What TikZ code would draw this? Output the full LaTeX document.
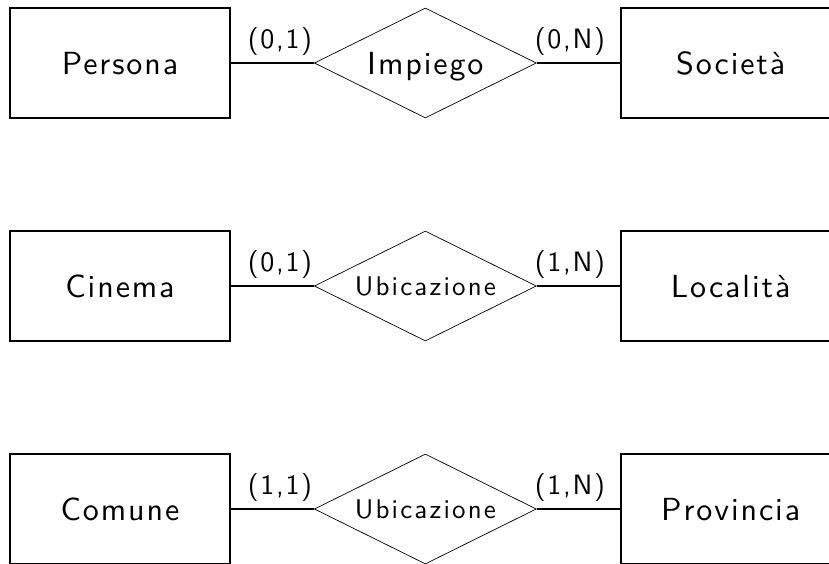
\documentclass[tikz,border=0pt]{standalone}
\usepackage{fontspec}
\usepackage{tikz}
\usetikzlibrary{positioning,shapes.geometric}

\newfontfamily\erfont{lmsans10-regular.otf}[LetterSpace=6]
\newfontfamily\relfont{lmsans10-regular.otf}[LetterSpace=8]

\begin{document}
\begin{tikzpicture}[x=1pt,y=1pt,
    entity/.style={draw, line width=2pt, minimum width=220pt, minimum height=110pt,
      inner sep=0pt, font=\erfont\fontsize{32}{32}\selectfont,
      text height=22pt, text depth=0pt},
    relation/.style={draw, diamond, aspect=2, line width=0.7pt, minimum width=222pt,
      minimum height=110pt, inner sep=0pt, font=\erfont\fontsize{32}{32}\selectfont,
      text height=22pt, text depth=0pt},
    small/.style={font=\relfont\fontsize{27}{27}\selectfont, text height=19pt},
    card/.style={above=7pt, inner sep=0pt, font=\erfont\fontsize{28}{28}\selectfont},
    link/.style={line width=2pt}]
  \useasboundingbox (0,0) rectangle (829,-563);
  % Persona -- Impiego -- Societa
  \node[entity] (persona) at (120,-63) {Persona};
  \node[relation, right=83pt of persona] (impiego) {Impiego};
  \node[entity, right=83pt of impiego] (societa) {Società};
  % Cinema -- Ubicazione -- Localita
  \node[entity, below=111pt of persona] (cinema) {Cinema};
  \node[relation, small, right=83pt of cinema] (ubic1) {Ubicazione};
  \node[entity, right=83pt of ubic1] (localita) {Località};
  % Comune -- Ubicazione -- Provincia
  \node[entity, below=111pt of cinema] (comune) {Comune};
  \node[relation, small, right=83pt of comune] (ubic2) {Ubicazione};
  \node[entity, right=83pt of ubic2] (provincia) {Provincia};

  \draw[link] (persona) -- node[card, pos=0.59] {(0,1)} (impiego);
  \draw[link] (impiego) -- node[card, pos=0.40] {(0,N)} (societa);
  \draw[link] (cinema) -- node[card, pos=0.59] {(0,1)} (ubic1);
  \draw[link] (ubic1) -- node[card, pos=0.40] {(1,N)} (localita);
  \draw[link] (comune) -- node[card, pos=0.59] {(1,1)} (ubic2);
  \draw[link] (ubic2) -- node[card, pos=0.40] {(1,N)} (provincia);
\end{tikzpicture}
\end{document}
